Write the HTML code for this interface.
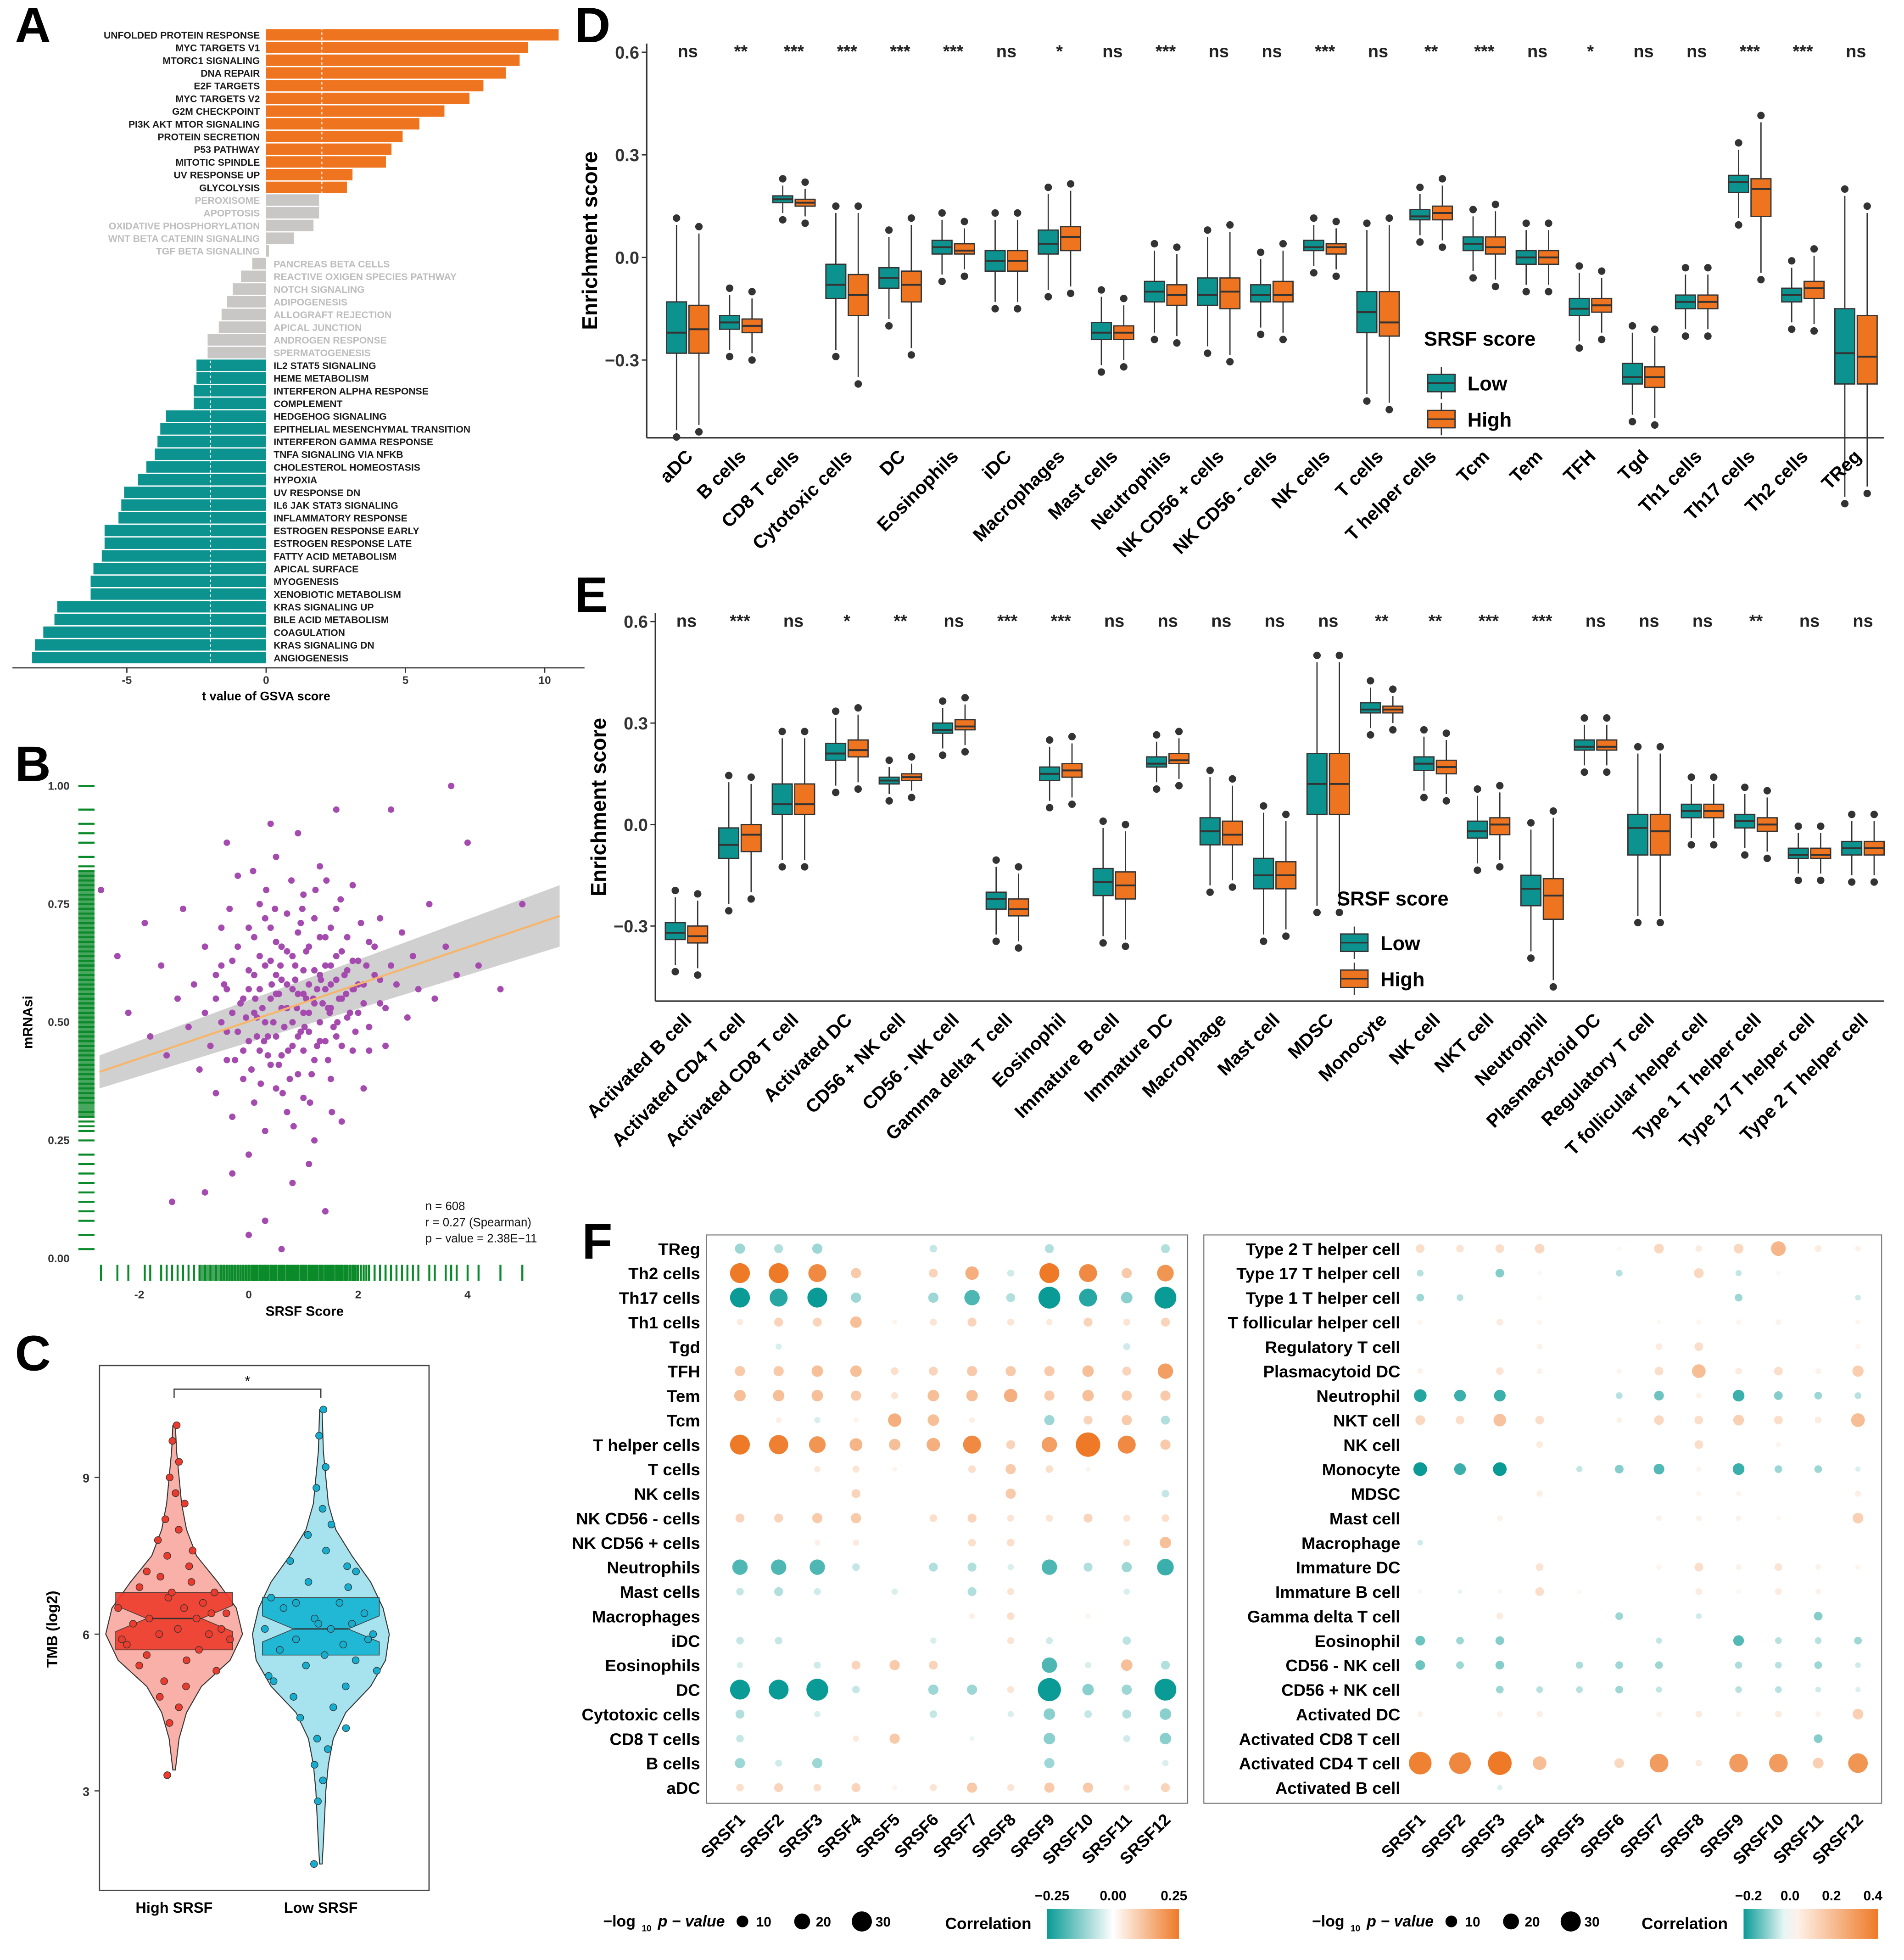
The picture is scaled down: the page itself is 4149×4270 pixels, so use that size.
<!DOCTYPE html>
<html><head><meta charset="utf-8">
<style>
html,body{margin:0;padding:0;background:#fff;}
svg{display:block;font-family:"Liberation Sans",Arial,sans-serif;}
</style></head>
<body>
<svg id="fig" xmlns="http://www.w3.org/2000/svg" width="4149" height="4270" viewBox="0 0 1531 1576" preserveAspectRatio="none">
<rect x="0" y="0" width="1531" height="1576" fill="#fff"/>
<g id="gA"></g>
<g id="gB"></g>
<g id="gC"></g>
<g id="gD"></g>
<g id="gE"></g>
<g id="gF"></g>
</svg>
<script>
// ---------- DATA ----------
const pathways = ["UNFOLDED PROTEIN RESPONSE","MYC TARGETS V1","MTORC1 SIGNALING","DNA REPAIR","E2F TARGETS","MYC TARGETS V2","G2M CHECKPOINT","PI3K AKT MTOR SIGNALING","PROTEIN SECRETION","P53 PATHWAY","MITOTIC SPINDLE","UV RESPONSE UP","GLYCOLYSIS","PEROXISOME","APOPTOSIS","OXIDATIVE PHOSPHORYLATION","WNT BETA CATENIN SIGNALING","TGF BETA SIGNALING","PANCREAS BETA CELLS","REACTIVE OXIGEN SPECIES PATHWAY","NOTCH SIGNALING","ADIPOGENESIS","ALLOGRAFT REJECTION","APICAL JUNCTION","ANDROGEN RESPONSE","SPERMATOGENESIS","IL2 STAT5 SIGNALING","HEME METABOLISM","INTERFERON ALPHA RESPONSE","COMPLEMENT","HEDGEHOG SIGNALING","EPITHELIAL MESENCHYMAL TRANSITION","INTERFERON GAMMA RESPONSE","TNFA SIGNALING VIA NFKB","CHOLESTEROL HOMEOSTASIS","HYPOXIA","UV RESPONSE DN","IL6 JAK STAT3 SIGNALING","INFLAMMATORY RESPONSE","ESTROGEN RESPONSE EARLY","ESTROGEN RESPONSE LATE","FATTY ACID METABOLISM","APICAL SURFACE","MYOGENESIS","XENOBIOTIC METABOLISM","KRAS SIGNALING UP","BILE ACID METABOLISM","COAGULATION","KRAS SIGNALING DN","ANGIOGENESIS"];
const tValues = [10.5,9.4,9.1,8.6,7.8,7.3,6.4,5.5,4.9,4.5,4.3,3.1,2.9,1.9,1.9,1.7,1.0,0.1,-0.5,-0.9,-1.2,-1.4,-1.6,-1.7,-2.1,-2.1,-2.5,-2.5,-2.6,-2.6,-3.6,-3.8,-3.9,-4.0,-4.3,-4.6,-5.1,-5.2,-5.3,-5.8,-5.8,-5.9,-6.2,-6.3,-6.3,-7.5,-7.6,-8.0,-8.3,-8.4];
const tTicks = [-5,0,5,10];

const scatterX = [-2.7,-2.4,-2.2,-1.9,-1.8,-1.6,-1.5,-1.3,-1.2,-1.1,-1.0,-0.9,-0.8,-0.8,-0.7,-0.6,-0.6,-0.5,-0.5,-0.4,-0.4,-0.3,-0.3,-0.2,-0.2,-0.1,-0.1,0,0,0,0.1,0.1,0.1,0.2,0.2,0.2,0.3,0.3,0.3,0.4,0.4,0.4,0.5,0.5,0.5,0.5,0.6,0.6,0.6,0.7,0.7,0.7,0.8,0.8,0.8,0.8,0.9,0.9,0.9,1.0,1.0,1.0,1.0,1.1,1.1,1.1,1.2,1.2,1.2,1.2,1.3,1.3,1.3,1.4,1.4,1.4,1.5,1.5,1.5,1.6,1.6,1.6,1.7,1.7,1.7,1.8,1.8,1.9,1.9,1.9,2.0,2.0,2.1,2.1,2.2,2.2,2.3,2.4,2.4,2.5,2.6,2.7,2.8,2.9,3.0,3.1,3.3,3.4,3.6,3.8,4.0,4.2,4.6,5.0,-1.4,0.3,0.6,-0.3,1.4,2.6,3.7,0.9,0.4,-0.4,1.6,-0.8,0.0,1.1,0.15,0.65,1.05,1.45,0.35,0.85,1.25,-0.15,0.55,0.95,
-0.6,-0.5,-0.4,-0.3,-0.2,-0.1,0,0,0.05,0.1,0.15,0.2,0.25,0.3,0.35,0.4,0.45,0.5,0.5,0.55,0.6,0.65,0.7,0.7,0.75,0.8,0.85,0.9,0.95,1.0,1.0,1.05,1.1,1.15,1.2,1.25,1.3,1.3,1.35,1.4,1.45,1.5,1.5,1.55,1.6,1.65,1.7,1.75,1.8,1.85,1.9,1.95,2.0,2.05,2.1,2.15,2.2,2.3,2.4,2.5,-0.45,-0.25,-0.05,0.12,0.28,0.42,0.58,0.72,0.88,1.02,1.18,1.32,1.48,1.62,1.78,1.92,0.22,0.62,1.12,1.52,0.82,0.32,0.78,1.22,1.68,0.48,0.98,-0.35,0.08,1.42];
const scatterY = [0.78,0.64,0.52,0.71,0.47,0.62,0.43,0.55,0.74,0.49,0.58,0.40,0.66,0.52,0.45,0.60,0.35,0.70,0.50,0.42,0.57,0.63,0.30,0.48,0.81,0.55,0.38,0.61,0.46,0.22,0.52,0.68,0.33,0.57,0.44,0.75,0.50,0.62,0.27,0.55,0.41,0.70,0.47,0.60,0.36,0.85,0.53,0.66,0.43,0.58,0.31,0.73,0.50,0.64,0.45,0.16,0.56,0.69,0.39,0.52,0.61,0.77,0.34,0.48,0.58,0.66,0.54,0.42,0.72,0.25,0.60,0.50,0.83,0.46,0.57,0.68,0.53,0.38,0.62,0.59,0.47,0.74,0.55,0.65,0.29,0.51,0.61,0.57,0.44,0.79,0.63,0.52,0.58,0.36,0.67,0.49,0.60,0.54,0.72,0.45,0.62,0.58,0.69,0.51,0.64,0.57,0.75,0.55,0.66,0.60,0.88,0.62,0.57,0.75,0.12,0.08,0.02,0.18,0.10,0.95,1.0,0.90,0.92,0.88,0.95,0.14,0.05,0.20,0.51,0.49,0.55,0.53,0.47,0.59,0.45,0.54,0.56,0.48,
0.55,0.62,0.48,0.52,0.66,0.44,0.57,0.70,0.40,0.60,0.47,0.64,0.53,0.72,0.43,0.63,0.50,0.56,0.67,0.41,0.59,0.49,0.65,0.53,0.38,0.57,0.62,0.47,0.71,0.56,0.44,0.65,0.52,0.39,0.61,0.57,0.46,0.68,0.54,0.62,0.42,0.58,0.70,0.49,0.64,0.55,0.45,0.60,0.68,0.52,0.63,0.48,0.58,0.71,0.54,0.62,0.44,0.66,0.59,0.53,0.58,0.42,0.51,0.55,0.46,0.58,0.62,0.44,0.53,0.49,0.55,0.59,0.52,0.50,0.56,0.57,0.37,0.35,0.33,0.31,0.28,0.78,0.80,0.78,0.76,0.74,0.74,0.74,0.82,0.80];

const violinGroups = ["High SRSF","Low SRSF"];
const highDensY = [3.4,4,4.5,5,5.5,6,6.5,7,7.5,8,8.5,9,9.5,10];
const highDensW = [1,4,10,22,45,55,50,35,18,10,6,4,2,1];
const lowDensY = [1.6,2,3,3.5,4,4.5,5,5.5,6,6.5,7,7.5,8,8.5,9,9.5,10.3];
const lowDensW = [1,2,4,6,10,20,40,52,55,50,40,25,12,6,4,2,1];
const highQuart = [5.7,6.3,6.8];
const lowQuart = [5.6,6.1,6.7];
const highPts = [10,9.7,9.3,9,8.7,8.5,8.2,8,7.8,7.6,7.5,7.3,7.2,7,6.9,6.8,6.7,6.6,6.5,6.5,6.4,6.3,6.3,6.2,6.1,6,6,5.9,5.8,5.7,5.6,5.5,5.4,5.3,5.1,5,4.8,4.6,4.3,3.3,6.8,6.1,7.1,5.9,6.4];
const lowPts = [10.3,9.8,9.2,8.8,8.4,8.1,7.9,7.6,7.4,7.2,7,6.9,6.7,6.6,6.5,6.4,6.3,6.2,6.1,6.1,6,5.9,5.8,5.7,5.6,5.5,5.4,5.3,5.1,5,4.8,4.6,4.4,4.2,4,3.8,3.5,3.2,2.8,1.6,6.2,5.9,6.6,5.2,7.3];
const ptJitter = [12,-8,20,-15,5,30,-25,10,-35,40,-10,22,-40,15,-30,35,-5,25,-45,8,42,-20,18,-33,3,28,-12,45,-38,20,-22,10,-28,34,-8,15,-18,6,-10,-32,-2,38,-20,-42,30];

const dCats = ["aDC","B cells","CD8 T cells","Cytotoxic cells","DC","Eosinophils","iDC","Macrophages","Mast cells","Neutrophils","NK CD56 + cells","NK CD56 - cells","NK cells","T cells","T helper cells","Tcm","Tem","TFH","Tgd","Th1 cells","Th17 cells","Th2 cells","TReg"];
const dSig = ["ns","**","***","***","***","***","ns","*","ns","***","ns","ns","***","ns","**","***","ns","*","ns","ns","***","***","ns"];
const dLow = [[-0.28,-0.22,-0.13],[-0.21,-0.19,-0.17],[0.16,0.17,0.18],[-0.12,-0.08,-0.02],[-0.09,-0.06,-0.03],[0.01,0.03,0.05],[-0.04,-0.01,0.02],[0.01,0.04,0.08],[-0.24,-0.22,-0.19],[-0.13,-0.10,-0.07],[-0.14,-0.11,-0.06],[-0.13,-0.11,-0.08],[0.02,0.03,0.05],[-0.22,-0.16,-0.10],[0.11,0.12,0.14],[0.02,0.04,0.06],[-0.02,0,0.02],[-0.17,-0.15,-0.12],[-0.37,-0.35,-0.31],[-0.15,-0.13,-0.11],[0.19,0.22,0.24],[-0.13,-0.11,-0.09],[-0.37,-0.28,-0.15]];
const dHigh = [[-0.28,-0.21,-0.14],[-0.22,-0.20,-0.18],[0.15,0.16,0.17],[-0.17,-0.11,-0.05],[-0.13,-0.08,-0.04],[0.01,0.02,0.04],[-0.04,-0.01,0.02],[0.02,0.06,0.09],[-0.24,-0.22,-0.20],[-0.14,-0.11,-0.08],[-0.15,-0.10,-0.06],[-0.13,-0.11,-0.07],[0.01,0.03,0.04],[-0.23,-0.19,-0.10],[0.11,0.13,0.15],[0.01,0.03,0.06],[-0.02,0,0.02],[-0.16,-0.14,-0.12],[-0.38,-0.35,-0.32],[-0.15,-0.13,-0.11],[0.12,0.20,0.23],[-0.12,-0.09,-0.07],[-0.37,-0.29,-0.17]];

const eCats = ["Activated B cell","Activated CD4 T cell","Activated CD8 T cell","Activated DC","CD56 + NK cell","CD56 - NK cell","Gamma delta T cell","Eosinophil","Immature B cell","Immature DC","Macrophage","Mast cell","MDSC","Monocyte","NK cell","NKT cell","Neutrophil","Plasmacytoid DC","Regulatory T cell","T follicular helper cell","Type 1 T helper cell","Type 17 T helper cell","Type 2 T helper cell"];
const eSig = ["ns","***","ns","*","**","ns","***","***","ns","ns","ns","ns","ns","**","**","***","***","ns","ns","ns","**","ns","ns"];
const eLow = [[-0.34,-0.32,-0.29],[-0.10,-0.06,-0.01],[0.03,0.06,0.12],[0.19,0.21,0.24],[0.12,0.13,0.14],[0.27,0.28,0.30],[-0.25,-0.22,-0.20],[0.13,0.15,0.17],[-0.21,-0.17,-0.13],[0.17,0.18,0.20],[-0.06,-0.02,0.02],[-0.19,-0.15,-0.10],[0.03,0.12,0.21],[0.33,0.34,0.36],[0.16,0.18,0.20],[-0.04,-0.02,0.01],[-0.24,-0.19,-0.15],[0.22,0.23,0.25],[-0.09,-0.01,0.03],[0.02,0.04,0.06],[-0.01,0.01,0.03],[-0.10,-0.09,-0.07],[-0.09,-0.07,-0.05]];
const eHigh = [[-0.35,-0.33,-0.30],[-0.08,-0.03,0.00],[0.03,0.06,0.12],[0.20,0.22,0.25],[0.13,0.14,0.15],[0.28,0.29,0.31],[-0.27,-0.25,-0.22],[0.14,0.16,0.18],[-0.22,-0.18,-0.14],[0.18,0.19,0.21],[-0.06,-0.03,0.01],[-0.19,-0.15,-0.11],[0.03,0.12,0.21],[0.33,0.34,0.35],[0.15,0.17,0.19],[-0.03,0.00,0.02],[-0.28,-0.21,-0.16],[0.22,0.23,0.25],[-0.09,-0.02,0.03],[0.02,0.04,0.06],[-0.02,0.00,0.02],[-0.10,-0.09,-0.07],[-0.09,-0.07,-0.05]];
const dTicks = [0.6,0.3,0.0,-0.3];

const genes = ["SRSF1","SRSF2","SRSF3","SRSF4","SRSF5","SRSF6","SRSF7","SRSF8","SRSF9","SRSF10","SRSF11","SRSF12"];
const fLeftRows = ["TReg","Th2 cells","Th17 cells","Th1 cells","Tgd","TFH","Tem","Tcm","T helper cells","T cells","NK cells","NK CD56 - cells","NK CD56 + cells","Neutrophils","Mast cells","Macrophages","iDC","Eosinophils","DC","Cytotoxic cells","CD8 T cells","B cells","aDC"];
const fLeftCorr = [
[-0.1,-0.08,-0.1,0,0,-0.06,0,0,-0.08,0,0,-0.08],
[0.25,0.25,0.22,0.1,0,0.08,0.15,-0.05,0.25,0.22,0.1,0.2],
[-0.25,-0.22,-0.25,-0.1,0,-0.1,-0.18,-0.08,-0.28,-0.22,-0.12,-0.28],
[0.04,0.08,0.08,0.12,0.02,0.05,0.08,0.05,0.04,0.08,0.05,0.08],
[0,-0.04,0,0,0,0,0,0,0,0,-0.05,0],
[0.1,0.1,0.12,0.12,0.06,0.08,0.1,0.1,0.1,0.12,0.08,0.18],
[0.12,0.12,0.12,0.1,0.05,0.12,0.12,0.15,0.1,0.12,0.1,0.1],
[0,0.03,-0.04,0.02,0.15,0.12,0.03,0,-0.1,0.08,0.1,-0.08],
[0.25,0.24,0.2,0.14,0.12,0.15,0.22,0.08,0.18,0.32,0.22,0.1],
[0,0,0.04,0.05,0.02,0,0.06,0.1,0.06,0.02,0,0],
[0,0,0,0.08,0,0,0,0.1,0,0,0,-0.06],
[0.08,0.08,0.1,0.1,0,0.06,0.08,0.05,0.05,0.08,0.05,0.06],
[0,0,0.03,0.04,0,0,0.06,0.06,0,0,0.05,0.12],
[-0.18,-0.18,-0.18,-0.06,0,-0.08,-0.08,-0.04,-0.18,-0.08,-0.1,-0.2],
[-0.06,-0.08,-0.05,0,-0.04,0,-0.08,0.05,0,0,-0.04,0],
[0,0,0,0,0,0,0.03,0.06,0,0.02,0,0],
[-0.06,-0.06,0,0,0,-0.04,0,0.05,-0.05,0,-0.07,0],
[-0.04,0,-0.05,0.08,0.1,0.08,0,0,-0.18,-0.04,0.12,-0.08],
[-0.25,-0.25,-0.28,-0.06,0,-0.1,-0.1,0.05,-0.3,-0.12,-0.1,-0.28],
[-0.08,0,-0.04,0,0,-0.06,0,-0.04,-0.12,-0.06,-0.08,-0.12],
[-0.06,0,0,0.04,0.1,0,-0.02,0,-0.12,0,-0.05,-0.12],
[-0.1,-0.05,-0.1,0,0,0,0,0,-0.1,0,0,-0.04],
[0.06,0.08,0.06,0.08,0.02,0.05,0.1,0.05,0.1,0.1,0.04,0.08]];
const fRightRows = ["Type 2 T helper cell","Type 17 T helper cell","Type 1 T helper cell","T follicular helper cell","Regulatory T cell","Plasmacytoid DC","Neutrophil","NKT cell","NK cell","Monocyte","MDSC","Mast cell","Macrophage","Immature DC","Immature B cell","Gamma delta T cell","Eosinophil","CD56 - NK cell","CD56 + NK cell","Activated DC","Activated CD8 T cell","Activated CD4 T cell","Activated B cell"];
const fRightCorr = [
[0.1,0.08,0.1,0.12,0,0.02,0.12,0.06,0.12,0.22,0.06,0.04],
[-0.06,0,-0.1,0.02,0,-0.06,0,0.12,-0.05,0.02,0,0],
[-0.08,-0.06,0,0.02,0,0,0,0,-0.08,0,0,-0.04],
[0.03,0,0.06,0.03,0,0,0.02,0.03,0.03,0.04,0,0.03],
[0,0,0,0.04,0,0,0.06,0.1,0,0,0,0.03],
[0.04,0,0.08,0.04,0,0.03,0.1,0.2,0.06,0.1,0.04,0.15],
[-0.18,-0.16,-0.16,0,0,-0.06,-0.12,0.04,-0.16,-0.1,-0.08,-0.06],
[0.12,0.1,0.18,0.1,0,0.04,0.12,0.1,0.14,0.1,0.06,0.2],
[0,0,0,0.06,0,0,0,0.1,0,0.03,0,0],
[-0.2,-0.16,-0.2,0,-0.05,-0.1,-0.14,0.03,-0.16,-0.08,-0.08,-0.03],
[0,0,0,0.05,0,0,0,0.03,0.03,0,0,0.05],
[0,0,0.04,0,0,0,0.04,0.04,0.04,0.02,0,0.14],
[-0.04,0,0,0,0,0,0,0,0,0,0,0],
[0,0,0,0.08,0,0,0.03,0.1,0.04,0.08,0.04,0.03],
[0.02,-0.02,0.02,0.1,0.02,0,0,0.06,0.02,0.06,0.04,0],
[0,0,0.06,0,0,-0.08,0,-0.04,0,0,-0.1,0],
[-0.12,-0.08,-0.1,0,0,0,-0.05,0,-0.14,-0.06,-0.06,-0.08],
[-0.12,-0.08,-0.1,0,-0.07,-0.08,-0.08,0,-0.07,-0.06,-0.08,-0.04],
[0,0,-0.08,-0.06,-0.06,-0.08,-0.05,0,-0.06,-0.06,-0.04,-0.03],
[0.04,0,0.04,0.05,0,0,0.04,0.06,0.04,0.06,0.04,0.14],
[0,0,0,0,0,0,0,0,0,0,-0.1,0],
[0.38,0.36,0.4,0.2,0,0.12,0.3,0.06,0.3,0.3,0.14,0.32],
[0,0,-0.03,0,0,0,0,0,0,0,0,0]];

// ---------- HELPERS ----------
const NS = "http://www.w3.org/2000/svg";
const TEAL = "#0d938f", ORANGE = "#ee7420";
function mk(parent, tag, attrs, text){
  const e = document.createElementNS(NS, tag);
  for (const k in attrs) if (attrs[k] !== undefined) e.setAttribute(k, attrs[k]);
  if (text !== undefined) e.textContent = text;
  parent.appendChild(e);
  return e;
}
function label(parent, x, y, txt, size){
  const t = mk(parent, "text", {x:x, y:y, "font-size":size||40, "font-weight":"bold"}, txt);
  
  
}
label(document.getElementById("gA"), 12, 34, "A");
label(document.getElementById("gB"), 12, 628, "B");
label(document.getElementById("gC"), 12, 1102, "C");
label(document.getElementById("gD"), 462, 34, "D");
label(document.getElementById("gE"), 462, 492, "E");
label(document.getElementById("gF"), 468, 1012, "F");

// ---------- PANEL A ----------
(function(){
  const g = document.getElementById("gA");
  const xA = v => 214 + 22.4*v;
  const rowY = i => 28 + i*10.22;
  pathways.forEach((p,i)=>{
    const v = tValues[i];
    let col = i<13 ? ORANGE : (i<26 ? "#c9c6c6" : TEAL);
    const x0 = Math.min(xA(0), xA(v)), w = Math.max(Math.abs(xA(v)-xA(0)), 0.8);
    const r = mk(g,"rect",{x:x0, y:rowY(i)-4.6, width:w, height:9.2, fill:col});
    
    
    const pos = v>0;
    const t = mk(g,"text",{x: pos? 209 : 220, y: rowY(i)+3, "font-size":7.8, "font-weight":"bold", "text-anchor": pos?"end":"start", fill: (i>=13&&i<26)?"#bdbdbd":"#1a1a1a"}, p);
    
    
  });
  mk(g,"line",{x1:xA(2), x2:xA(2), y1:22, y2:160, stroke:"#fff","stroke-dasharray":"2,2","stroke-width":0.8});
  mk(g,"line",{x1:xA(-2), x2:xA(-2), y1:290, y2:534, stroke:"#fff","stroke-dasharray":"2,2","stroke-width":0.8});
  const ax = mk(g,"line",{x1:10,x2:470,y1:537,y2:537,stroke:"#333","stroke-width":1});
  
  
  tTicks.forEach(t=>{
    mk(g,"line",{x1:xA(t),x2:xA(t),y1:537,y2:541,stroke:"#333"});
    const tl = mk(g,"text",{x:xA(t),y:550,"font-size":9,"text-anchor":"middle","font-weight":"bold",fill:"#333"}, t);
    
    
  });
  const tt = mk(g,"text",{x:214,y:563,"font-size":10,"font-weight":"bold","text-anchor":"middle"},"t value of GSVA score");
  
  
})();

// ---------- PANEL B ----------
(function(){
  const g = document.getElementById("gB");
  const xB = v => 200 + 44*v;
  const yB = v => 1012 - 380*v;
  [0,0.25,0.5,0.75,1].forEach(t=>{
    const tl = mk(g,"text",{x:56,y:yB(t)+3,"font-size":9,"font-weight":"bold","text-anchor":"end",fill:"#333"}, t.toFixed(2));
    
    
  });
  [-2,0,2,4].forEach(t=>{
    const tl = mk(g,"text",{x:xB(t),y:1044,"font-size":9,"font-weight":"bold","text-anchor":"middle",fill:"#333"}, t);
    
    
  });
  const yt = mk(g,"text",{x:0,y:0,"font-size":11,"font-weight":"bold","text-anchor":"middle",transform:"translate(26,822) rotate(-90)"},"mRNAsi");
  
  
  const xt = mk(g,"text",{x:245,y:1058,"font-size":11,"font-weight":"bold","text-anchor":"middle"},"SRSF Score");
  
  
  scatterY.forEach(v=>{ mk(g,"line",{x1:63,x2:76,y1:yB(v),y2:yB(v),stroke:"#0b8a2a","stroke-width":1.6}); });
  mk(g,"rect",{x:63,y:yB(0.82),width:13,height:yB(0.3)-yB(0.82),fill:"#0b8a2a",opacity:0.75});
  scatterX.forEach(v=>{ mk(g,"line",{x1:xB(v),x2:xB(v),y1:1017,y2:1030,stroke:"#0b8a2a","stroke-width":1.6}); });
  mk(g,"rect",{x:xB(-0.9),y:1017,width:xB(2)-xB(-0.9),height:13,fill:"#0b8a2a",opacity:0.75});
  const band = mk(g,"path",{d:`M80,${yB(0.43)} L450,${yB(0.79)} L450,${yB(0.66)} L80,${yB(0.36)} Z`, fill:"#c8c8c8", opacity:0.85});
  
  
  scatterX.forEach((v,i)=>{
    const c = mk(g,"circle",{cx:xB(v),cy:yB(scatterY[i]),r:2.6,fill:"#a54bb0"});
    
    
  });
  const ln = mk(g,"line",{x1:80,y1:yB(0.395),x2:450,y2:yB(0.725),stroke:"#f7b56a","stroke-width":1.6});
  
  
  ["n = 608","r = 0.27 (Spearman)","p − value = 2.38E−11"].forEach((s,i)=>{
    const t = mk(g,"text",{x:342,y:973+i*13,"font-size":9.5,fill:"#111"}, s);
    
    
  });
})();

// ---------- PANEL C ----------
(function(){
  const g = document.getElementById("gC");
  const yC = v => 1314 - 42*(v-6);
  mk(g,"rect",{x:80,y:1098,width:265,height:422,fill:"none",stroke:"#444","stroke-width":1});
  [3,6,9].forEach(t=>{
    mk(g,"line",{x1:76,x2:80,y1:yC(t),y2:yC(t),stroke:"#444"});
    const tl = mk(g,"text",{x:72,y:yC(t)+4,"font-size":10,"font-weight":"bold","text-anchor":"end",fill:"#333"}, t);
    
    
  });
  const yt = mk(g,"text",{x:0,y:0,"font-size":12,"font-weight":"bold","text-anchor":"middle",transform:"translate(46,1310) rotate(-90)"},"TMB (log2)");
  
  
  const cfg = [
    {cx:140, dy:highDensY, dw:highDensW, q:highQuart, pts:highPts, fill:"#f8b0a8", box:"#ee3b2b", pt:"#ec3b2c"},
    {cx:258, dy:lowDensY, dw:lowDensW, q:lowQuart, pts:lowPts, fill:"#a7e3ee", box:"#12b4d3", pt:"#14afd0"}];
  cfg.forEach((c,gi)=>{
    let d = "M"+c.cx+","+yC(c.dy[0]);
    c.dy.forEach((v,i)=>{ d += " L"+(c.cx+c.dw[i])+","+yC(v); });
    for (let i=c.dy.length-1;i>=0;i--) d += " L"+(c.cx-c.dw[i])+","+yC(c.dy[i]);
    d += "Z";
    const v = mk(g,"path",{d:d,fill:c.fill,stroke:"#333","stroke-width":0.8,"stroke-linejoin":"round"});
    
    
    const [q1,md,q3] = c.q, w=47, nw=22;
    const bd = `M${c.cx-w},${yC(q3)} L${c.cx+w},${yC(q3)} L${c.cx+w},${yC(md+0.25)} L${c.cx+nw},${yC(md)} L${c.cx+w},${yC(md-0.25)} L${c.cx+w},${yC(q1)} L${c.cx-w},${yC(q1)} L${c.cx-w},${yC(md-0.25)} L${c.cx-nw},${yC(md)} L${c.cx-w},${yC(md+0.25)} Z`;
    const b = mk(g,"path",{d:bd,fill:c.box,stroke:"#333","stroke-width":0.6,opacity:0.9});
    
    
    mk(g,"line",{x1:c.cx-nw,x2:c.cx+nw,y1:yC(md),y2:yC(md),stroke:"#333","stroke-width":1});
    c.pts.forEach((p,i)=>{
      const j = ptJitter[i] * Math.min(1, c.dw[Math.max(0,c.dy.findIndex(y=>y>=p))]/45 + 0.15);
      const pc = mk(g,"circle",{cx:c.cx+j,cy:yC(p),r:2.8,fill:c.pt,stroke:"#333","stroke-width":0.5});
      
      
    });
    const xl = mk(g,"text",{x:c.cx,y:1538,"font-size":12,"font-weight":"bold","text-anchor":"middle"}, violinGroups[gi]);
    
    
  });
  mk(g,"path",{d:"M140,1124 L140,1117 L258,1117 L258,1124",fill:"none",stroke:"#333","stroke-width":0.9});
  const s = mk(g,"text",{x:199,y:1114,"font-size":11,"text-anchor":"middle"},"*");
  
  
})();

// ---------- BOX PANELS D & E ----------
function boxPanel(g, cats, sig, low, high, y0, pxPerUnit, left, top, bottom, cx0, step, legX, legY){
  const yS = v => y0 - pxPerUnit*v;
  mk(g,"line",{x1:left,x2:left,y1:top,y2:bottom,stroke:"#333","stroke-width":1.2});
  mk(g,"line",{x1:left,x2:1515,y1:bottom,y2:bottom,stroke:"#333","stroke-width":1.2});
  dTicks.forEach(t=>{
    mk(g,"line",{x1:left-4,x2:left,y1:yS(t),y2:yS(t),stroke:"#333"});
    const tl = mk(g,"text",{x:left-6,y:yS(t)+5,"font-size":14,"font-weight":"bold","text-anchor":"end",fill:"#333"}, t<0? "−"+Math.abs(t).toFixed(1) : t.toFixed(1));
    
    
  });
  const yt = mk(g,"text",{x:0,y:0,"font-size":17,"font-weight":"bold","text-anchor":"middle",transform:`translate(${left-40},${(top+bottom)/2}) rotate(-90)`},"Enrichment score");
  
  
  cats.forEach((c,i)=>{
    const cx = cx0 + i*step;
    [[low[i],TEAL,-9],[high[i],ORANGE,9]].forEach(([q,col,off])=>{
      const [q1,md,q3] = q, iqr=q3-q1;
      const x = cx+off;
      const wl = q1-1.5*iqr, wh = q3+1.5*iqr;
      mk(g,"line",{x1:x,x2:x,y1:yS(wh),y2:yS(wl),stroke:"#333","stroke-width":1});
      const r = mk(g,"rect",{x:x-8,y:yS(q3),width:16,height:Math.max(1,yS(q1)-yS(q3)),fill:col,stroke:"#333","stroke-width":1});
      
      
      mk(g,"line",{x1:x-8,x2:x+8,y1:yS(md),y2:yS(md),stroke:"#333","stroke-width":1.5});
      [wh+0.02, wl-0.02].forEach(o=>{ mk(g,"circle",{cx:x,cy:yS(o),r:3,fill:"#333"}); });
    });
    const st = mk(g,"text",{x:cx,y:top+11,"font-size":14,"font-weight":"bold","text-anchor":"middle",fill:"#222"}, sig[i]);
    
    
    const xl = mk(g,"text",{x:cx+5,y:bottom+16,"font-size":15,"font-weight":"bold","text-anchor":"end",transform:`rotate(-45,${cx+5},${bottom+16})`}, c);
    
    
  });
  const lt = mk(g,"text",{x:legX,y:legY,"font-size":16,"font-weight":"bold"},"SRSF score");
  
  
  [["Low",TEAL],["High",ORANGE]].forEach(([n,col],k)=>{
    const yy = legY + 30 + k*29;
    mk(g,"line",{x1:legX+14,x2:legX+14,y1:yy-13,y2:yy+13,stroke:"#333"});
    const r = mk(g,"rect",{x:legX+3,y:yy-7,width:22,height:14,fill:col,stroke:"#333"});
    
    
    mk(g,"line",{x1:legX+3,x2:legX+25,y1:yy,y2:yy,stroke:"#333","stroke-width":1.2});
    const t = mk(g,"text",{x:legX+35,y:yy+6,"font-size":16,"font-weight":"bold"}, n);
    
    
  });
}
boxPanel(document.getElementById("gD"), dCats, dSig, dLow, dHigh, 207, 275, 520, 35, 352, 553, 42.7, 1145, 278);
boxPanel(document.getElementById("gE"), eCats, eSig, eLow, eHigh, 663, 272, 527, 493, 805, 552, 43, 1075, 728);

// ---------- PANEL F ----------
function lerp(a,b,t){return Math.round(a+(b-a)*t);}
function corrColor(v, lo, hi){
  const t = v<0 ? Math.min(1,-v/(-lo)) : Math.min(1,v/hi);
  const [r,g,b] = v<0 ? [10,155,150] : [238,122,40];
  return `rgb(${lerp(255,r,t)},${lerp(255,g,t)},${lerp(255,b,t)})`;
}
function dotPanel(g, rows, corr, x0, x1, colX0, colStep, labelX, lo, hi, rScale, legLeft){
  mk(g,"rect",{x:x0,y:993,width:x1-x0,height:457,fill:"none",stroke:"#777","stroke-width":0.8});
  rows.forEach((rn,i)=>{
    const y = 1004 + i*19.7;
    const t = mk(g,"text",{x:labelX,y:y+5,"font-size":13.5,"font-weight":"bold","text-anchor":"end"}, rn);
    
    
    corr[i].forEach((v,j)=>{
      const a = Math.abs(v);
      if (a < 0.015) return;
      const c = mk(g,"circle",{cx:colX0+j*colStep,cy:y,r:1.5+a*rScale,fill:corrColor(v,lo,hi)});
      
      
    });
  });
  genes.forEach((gn,j)=>{
    const x = colX0+j*colStep+5, y=1464;
    const t = mk(g,"text",{x:x,y:y,"font-size":13.5,"font-weight":"bold","text-anchor":"end",transform:`rotate(-45,${x},${y})`}, gn);
    
    
  });
  const L = legLeft;
  const lt = mk(g,"text",{x:L,y:1549,"font-size":12.5,"font-weight":"bold"},"−log");
  
  
  mk(g,"text",{x:L+31,y:1553,"font-size":7,"font-weight":"bold"},"10");
  mk(g,"text",{x:L+44,y:1549,"font-size":12.5,"font-weight":"bold","font-style":"italic"},"p − value");
  [10,20,30].forEach((s,k)=>{
    const cx = L+112+k*48;
    const c = mk(g,"circle",{cx:cx,cy:1545,r:3+s*0.17,fill:"#000"});
    
    
    mk(g,"text",{x:cx+11,y:1549,"font-size":11,"font-weight":"bold"}, s);
  });
}
(function(){
  const g = document.getElementById("gF");
  dotPanel(g, fLeftRows, fLeftCorr, 568, 955, 595, 31.1, 563, -0.25, 0.25, 26, 485);
  dotPanel(g, fRightRows, fRightCorr, 968, 1513, 1142, 32, 1126, -0.2, 0.4, 20, 1055);
  const defs = mk(g,"defs",{});
  [["gl",-0.25,0.25],["gr",-0.2,0.4]].forEach(([id,lo,hi])=>{
    const lg = mk(defs,"linearGradient",{id:id,x1:0,x2:1,y1:0,y2:0});
    for (let k=0;k<=10;k++){ const v = lo+(hi-lo)*k/10; mk(lg,"stop",{offset:k/10,"stop-color":corrColor(v,lo,hi)}); }
  });
  const bars = [{x:842,w:106,id:"gl",title:760,ticks:["−0.25","0.00","0.25"]},{x:1402,w:108,id:"gr",title:1320,ticks:["−0.2","0.0","0.2","0.4"]}];
  bars.forEach((b,k)=>{
    const t = mk(g,"text",{x:b.title,y:1551,"font-size":13,"font-weight":"bold"},"Correlation");
    
    
    const r = mk(g,"rect",{x:b.x,y:1535,width:b.w,height:24,fill:`url(#${b.id})`});
    
    
    b.ticks.forEach((tk,i)=>{
      const xx = b.x + 4 + i*(b.w-8)/(b.ticks.length-1);
      mk(g,"text",{x:xx,y:1528,"font-size":11,"font-weight":"bold","text-anchor":"middle"}, tk);
    });
  });
})();
</script>
</body></html>
